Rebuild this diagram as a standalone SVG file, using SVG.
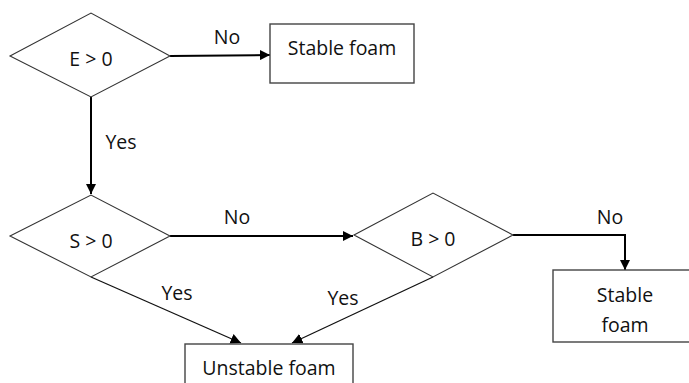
<svg xmlns="http://www.w3.org/2000/svg" width="689" height="383" viewBox="0 0 689 383">
<style>
.shape{fill:#fff;stroke:#333;stroke-width:1.1}
.box{fill:#fff;stroke:#444;stroke-width:1.4}
.t{font-family:"Open Sans","Liberation Sans",sans-serif;font-size:19.5px;fill:#111;text-anchor:middle;dominant-baseline:central}
.c{fill:none;stroke:#000;stroke-width:2}
.c2{fill:none;stroke:#111;stroke-width:1.3}
</style>
<defs>
<marker id="ah" viewBox="0 0 10 10" refX="10" refY="5" markerWidth="5" markerHeight="5" orient="auto" markerUnits="strokeWidth">
<path d="M0,0 L10,5 L0,10 z" fill="#000"/>
</marker>
<marker id="ah2" viewBox="0 0 10 10" refX="10" refY="5" markerWidth="8" markerHeight="8" orient="auto" markerUnits="strokeWidth">
<path d="M0,0 L10,5 L0,10 z" fill="#000"/>
</marker>
</defs>
<g id="connectors">
<path class="c" d="M170,56 L270,55" marker-end="url(#ah)"/>
<path class="c" d="M91,97 L91,194" marker-end="url(#ah)"/>
<path class="c" d="M170,236 L353,236" marker-end="url(#ah)"/>
<path class="c" d="M513,235 L625,235 L625,270" marker-end="url(#ah)"/>
<path class="c2" d="M91,277 L241,343" marker-end="url(#ah2)"/>
<path class="c2" d="M433,277 L292,343" marker-end="url(#ah2)"/>
<text class="t" x="227" y="36">No</text>
<text class="t" x="121" y="141">Yes</text>
<text class="t" x="237" y="216">No</text>
<text class="t" x="610" y="216">No</text>
<text class="t" x="177" y="292">Yes</text>
<text class="t" x="343" y="297">Yes</text>
</g>
<g id="e">
<polygon class="shape" points="10,56 91,13 170,56 91,97"/>
<text class="t" x="91" y="58">E &gt; 0</text>
</g>
<g id="stable1">
<rect class="box" x="270" y="24" width="144" height="59"/>
<text class="t" x="342" y="47">Stable foam</text>
</g>
<g id="s">
<polygon class="shape" points="10,236 91,195 170,236 91,277"/>
<text class="t" x="91" y="240">S &gt; 0</text>
</g>
<g id="b">
<polygon class="shape" points="354,235 433,193 513,235 433,277"/>
<text class="t" x="433" y="238">B &gt; 0</text>
</g>
<g id="stable2">
<rect class="box" x="553" y="270" width="144" height="72"/>
<text class="t" x="625" y="294">Stable</text>
<text class="t" x="625" y="324">foam</text>
</g>
<g id="unstable">
<rect class="box" x="185" y="344" width="168" height="50"/>
<text class="t" x="269" y="367">Unstable foam</text>
</g>
</svg>
